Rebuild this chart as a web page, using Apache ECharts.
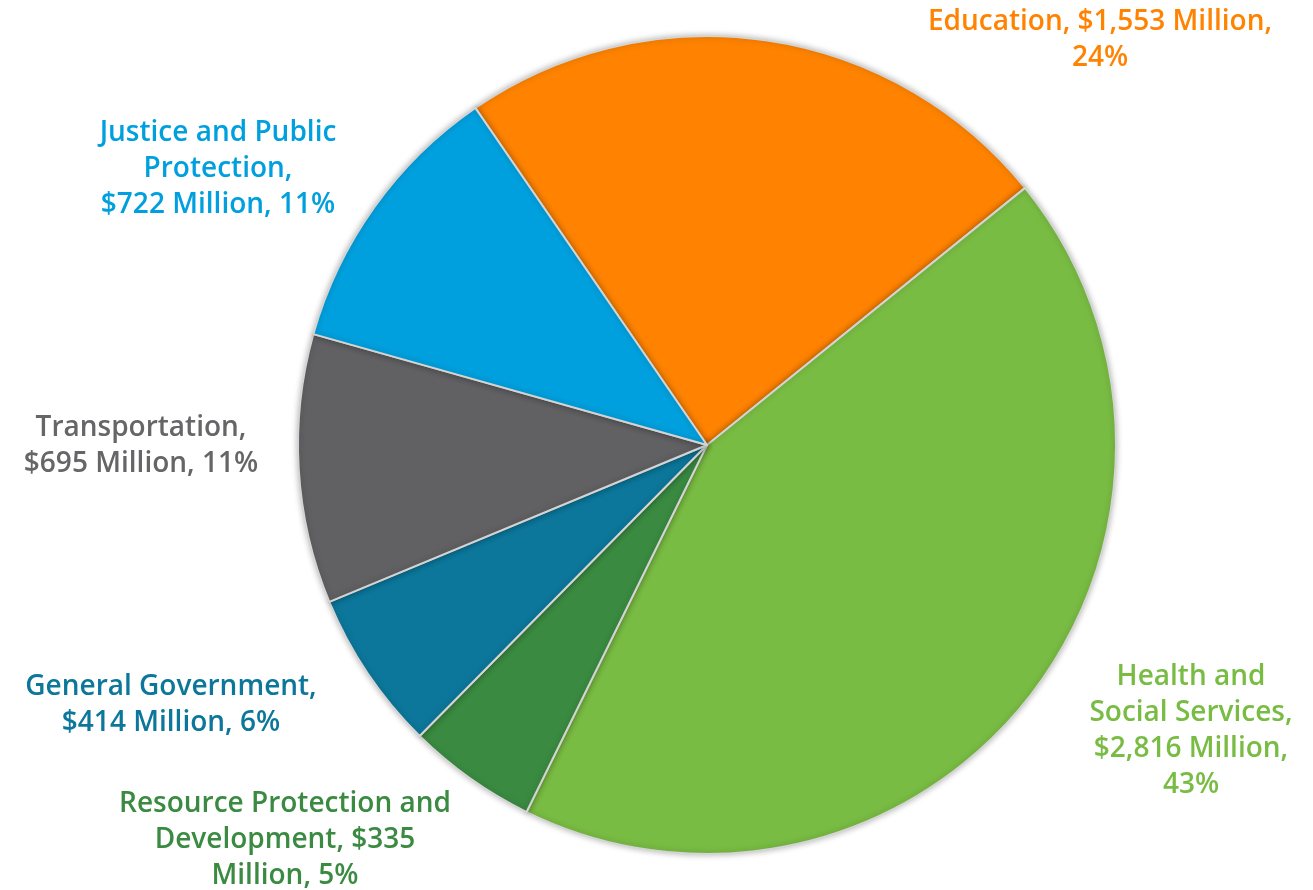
<!DOCTYPE html>
<html>
<head>
<meta charset="utf-8">
<script src="https://cdn.jsdelivr.net/npm/echarts@6/dist/echarts.min.js"></script>
<style>
html,body{margin:0;padding:0;background:#fff;}
#chart{width:1313px;height:890px;}
</style>
</head>
<body>
<div id="chart"></div>
<script>
const categories = ['Education', 'Health and Social Services', 'Resource Protection and Development', 'General Government', 'Transportation', 'Justice and Public Protection'];
const values = [1553, 2816, 335, 414, 695, 722];
const percents = [24, 43, 5, 6, 11, 11];
const labelTexts = [
  'Education, $1,553 Million,\n24%',
  'Health and\nSocial Services,\n$2,816 Million,\n43%',
  'Resource Protection and\nDevelopment, $335\nMillion, 5%',
  'General Government,\n$414 Million, 6%',
  'Transportation,\n$695 Million, 11%',
  'Justice and Public\nProtection,\n$722 Million, 11%'
];
const colors = ['#FF8300', '#79BC43', '#3A8B41', '#0C779B', '#616163', '#00A0DE'];
const labelColors = ['#FF8300', '#79BC43', '#3A8B41', '#0C779B', '#666668', '#00A0DE'];
const labelCenters = [[1100, 40], [1191, 731], [285, 840], [171, 705], [141, 446], [218, 169]];

const chart = echarts.init(document.getElementById('chart'), null, {renderer: 'canvas'});
chart.setOption({
  animation: false,
  series: [{
    type: 'pie',
    center: [707, 445],
    radius: 409,
    startAngle: 124.5,
    clockwise: true,
    avoidLabelOverlap: false,
    itemStyle: {
      borderColor: '#d4d4d4',
      borderWidth: 2,
      shadowBlur: 6,
      shadowColor: 'rgba(0,0,0,0.25)'
    },
    label: {
      show: true,
      position: 'outside',
      fontFamily: 'Open Sans',
      fontWeight: 600,
      fontSize: 28,
      lineHeight: 36,
      align: 'center'
    },
    labelLine: {show: false},
    labelLayout: function (p) {
      const c = labelCenters[p.dataIndex];
      return {x: c[0], y: c[1], align: 'center', verticalAlign: 'middle'};
    },
    data: categories.map((name, i) => ({
      name: name,
      value: values[i],
      itemStyle: {color: colors[i]},
      label: {color: labelColors[i], formatter: labelTexts[i]}
    }))
  }]
});
</script>
</body>
</html>
